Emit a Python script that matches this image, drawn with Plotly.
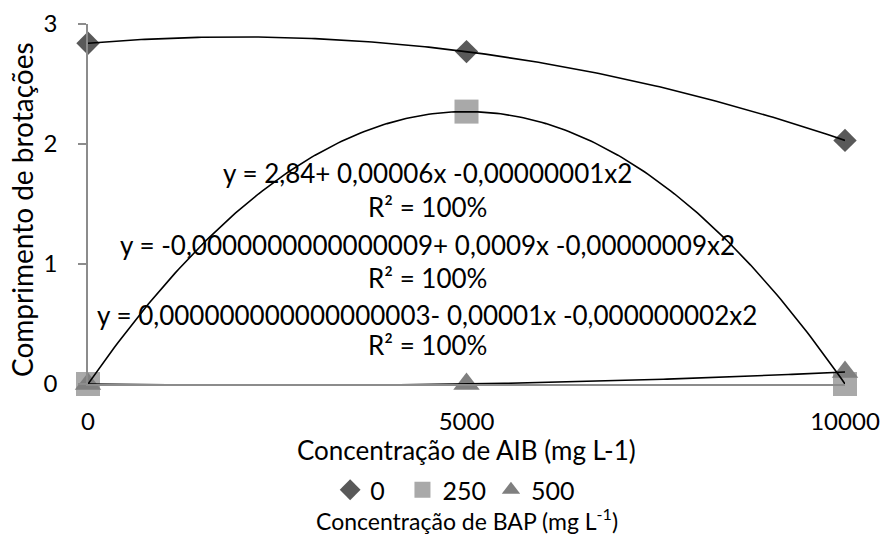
import numpy as np
import plotly.graph_objects as go

# Data
aib = [0, 5000, 10000]
bap_levels = ["0", "250", "500"]
comp_bap0 = [2.84, 2.77, 2.03]
comp_bap250 = [0.0, 2.27, 0.0]
comp_bap500 = [0.0, 0.0, 0.10]
equations = [
    "y = 2,84+ 0,00006x -0,00000001x2",
    "y = -0,0000000000000009+ 0,0009x -0,00000009x2",
    "y = 0,000000000000000003- 0,00001x -0,000000002x2",
]
r2_labels = ["R² = 100%", "R² = 100%", "R² = 100%"]
x_ticks = [0, 5000, 10000]
y_ticks = [0, 1, 2, 3]

FONT = "Lato"
W, H = 883, 535
L, R, T, B = 88, 38, 24, 151
series = [comp_bap0, comp_bap250, comp_bap500]
symbols = ["diamond", "square", "triangle-up"]
sizes = [18, 24, 23]
colors = ["#595959", "#A9A9A9", "#7F7F7F"]
legend_pad = ["\u00a0\u00a0", "", ""]


def py(pix):
    """paper y from pixel row"""
    return (H - B - pix) / (H - T - B)


def px(pix):
    return (pix - L) / (W - L - R)


fig = go.Figure()
for name, ys, sym, sz, col, pad in zip(bap_levels, series, symbols, sizes, colors, legend_pad):
    fig.add_trace(go.Scatter(
        x=aib, y=ys, mode="markers", name=name + pad,
        marker=dict(symbol=sym, size=sz, color=col, line=dict(width=0)),
        cliponaxis=False,
    ))

# Polynomial (order 2) trendlines through each series
xs = np.linspace(0, 10000, 201)
for ys in series:
    coef = np.polyfit(aib, ys, 2)
    fig.add_trace(go.Scatter(
        x=xs, y=np.polyval(coef, xs), mode="lines", showlegend=False,
        line=dict(color="black", width=1.6), hoverinfo="skip", cliponaxis=False,
    ))

text_x = 4480
eq_rows = [173, 245, 315]
r2_rows = [207, 278, 345]
for eq, r2, ey, ry in zip(equations, r2_labels, eq_rows, r2_rows):
    fig.add_annotation(x=text_x, y=py(ey), xref="x", yref="paper", text=eq, showarrow=False,
                       yanchor="middle", font=dict(family=FONT, size=26, color="black"))
    fig.add_annotation(x=text_x, y=py(ry), xref="x", yref="paper", text=r2, showarrow=False,
                       yanchor="middle", font=dict(family=FONT, size=26, color="black"))

# axis titles and legend title
fig.add_annotation(x=px(22), y=py(210), xref="paper", yref="paper", textangle=-90,
                   text="Comprimento de brotações", showarrow=False,
                   xanchor="center", yanchor="middle",
                   font=dict(family=FONT, size=28, color="black"))
fig.add_annotation(x=0.5, y=py(450), xref="paper", yref="paper",
                   text="Concentração de AIB (mg L-1)", showarrow=False,
                   yanchor="middle", font=dict(family=FONT, size=26, color="black"))
fig.add_annotation(x=0.5, y=py(519), xref="paper", yref="paper", yanchor="middle",
                   text="Concentração de BAP (mg L<sup>-1</sup>)",
                   showarrow=False, font=dict(family=FONT, size=23, color="black"))

fig.update_layout(
    width=W, height=H,
    margin=dict(l=L, r=R, t=T, b=B),
    paper_bgcolor="white", plot_bgcolor="white",
    font=dict(family=FONT, size=24, color="black"),
    showlegend=True,
    hovermode=False,
    legend=dict(orientation="h", x=0.485, xanchor="center", y=py(490), yanchor="middle",
                font=dict(family=FONT, size=25), itemwidth=30, tracegroupgap=0,
                bgcolor="rgba(0,0,0,0)"),
    xaxis=dict(
        range=[0, 10000], tickvals=x_ticks, ticktext=[str(v) for v in x_ticks],
        showgrid=False, zeroline=False, showline=True, linecolor="#8C8C8C", linewidth=1.5,
        ticks="", tickfont=dict(family=FONT, size=24), ticklabelstandoff=15,
        automargin=False,
    ),
    yaxis=dict(
        range=[0, 3], tickvals=y_ticks, showgrid=False, zeroline=False,
        showline=True, linecolor="#8C8C8C", linewidth=1.5,
        ticks="outside", ticklen=8, tickcolor="#8C8C8C", tickwidth=1.5,
        tickfont=dict(family=FONT, size=24), ticklabelstandoff=16,
        automargin=False,
    ),
)

fig.write_html("out.html", config={"displayModeBar": False},
               post_script="document.body.style.margin='0px';document.body.style.overflow='hidden';")
